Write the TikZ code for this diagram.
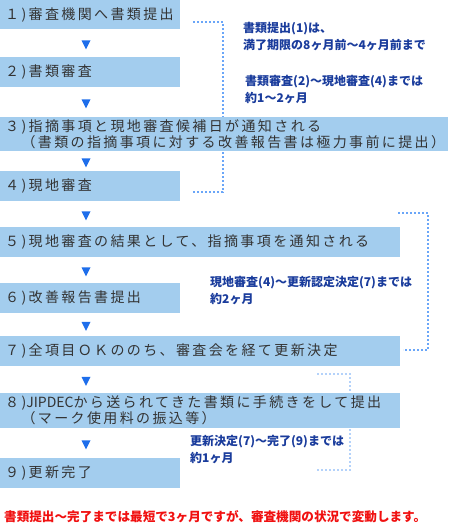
\documentclass[tikz,border=0pt]{standalone}
\usepackage{fontspec}
\setmainfont{Noto Sans CJK JP}
\newfontfamily\stepfont[LetterSpace=17]{Noto Sans CJK JP}
\newfontfamily\plainfont{Noto Sans CJK JP}
\usetikzlibrary{shapes.geometric,backgrounds}
\definecolor{stepblue}{HTML}{A3CDEE}
\definecolor{steptext}{HTML}{333333}
\definecolor{arrowblue}{HTML}{1E6EEB}
\definecolor{dotblue}{HTML}{6AA6F8}
\definecolor{paleblue}{HTML}{B4D2FA}
\definecolor{noteblue}{HTML}{1A3C9C}
\definecolor{warnred}{HTML}{F01010}

\begin{document}
\begin{tikzpicture}[x=1pt, y=-1pt,
        stepbox/.style={rectangle, fill=stepblue, text=steptext, anchor=north west, align=left, text width=#1, minimum height=30pt, inner xsep=5pt, inner ysep=0pt, font=\stepfont\fontsize{14pt}{16pt}\selectfont},
        tri/.style={isosceles triangle, shape border rotate=-90, isosceles triangle stretches, fill=arrowblue, minimum width=9pt, minimum height=9pt, inner sep=0pt},
        dotline/.style={draw=dotblue, line width=2pt, dash pattern=on 2pt off 2pt},
        note/.style={text=noteblue, align=left, anchor=west, inner sep=0pt, font=\bfseries\fontsize{12pt}{17pt}\selectfont}
    ]
        \useasboundingbox (0,0) rectangle (450,525);

        % Steps
        \node[stepbox=170pt, minimum height=29pt] (s1) at (0,0) {１)審査機関へ書類提出};
        \node[stepbox=170pt] (s2) at (0,57) {２)書類審査};
        \node[stepbox=438pt, minimum height=34pt] (s3) at (0,117) {３)指摘事項と現地審査候補日が通知される\\　（書類の指摘事項に対する改善報告書は極力事前に提出）};
        \node[stepbox=170pt] (s4) at (0,171) {４)現地審査};
        \node[stepbox=390pt] (s5) at (0,227) {５)現地審査の結果として、指摘事項を通知される};
        \node[stepbox=170pt] (s6) at (0,283) {６)改善報告書提出};
        \node[stepbox=390pt] (s7) at (0,336) {７)全項目ＯＫののち、審査会を経て更新決定};
        \node[stepbox=390pt, minimum height=35pt] (s8) at (0,393) {８){\plainfont JIPDEC}から送られてきた書類に手続きをして提出\\　（マーク使用料の振込等）};
        \node[stepbox=170pt] (s9) at (0,458) {９)更新完了};

        % Arrows between steps
        \foreach \a/\b in {s1/s2, s2/s3, s3/s4, s4/s5, s5/s6, s6/s7, s7/s8, s8/s9}
            \path ([xshift=86pt]\a.south west) -- ([xshift=86pt]\b.north west) node[midway, tri] {};

        % Periods
        \coordinate (m1a) at (193,22);
        \coordinate (m1b) at (193,192);
        \coordinate (m2a) at (398,213);
        \coordinate (m2b) at (403,350);
        \coordinate (m3a) at (317,374);
        \coordinate (m3b) at (317,470);
        \begin{scope}[on background layer]
            \draw[dotline] (m1a) -- ++(30,0) |- (m1b);
            \draw[dotline] (m2a) -- ++(30,0) |- (m2b);
            \draw[dotline, draw=paleblue] (m3a) -- ++(33,0) |- (m3b);
        \end{scope}

        \node[note] (n1) at (243,36.5) {書類提出(1)は、\\満了期限の8ヶ月前〜4ヶ月前まで};
        \node[note] (n2) at (245,89.5) {書類審査(2)〜現地審査(4)までは\\約1〜2ヶ月};
        \node[note] (n3) at (210,290.5) {現地審査(4)〜更新認定決定(7)までは\\約2ヶ月};
        \node[note] (n4) at (190,449.5) {更新決定(7)〜完了(9)までは\\約1ヶ月};

        \node[note, text=warnred, font=\bfseries\fontsize{12.6pt}{17pt}\selectfont] (warn) at (4,517) {書類提出〜完了までは最短で3ヶ月ですが、審査機関の状況で変動します。};
    \end{tikzpicture}
\end{document}
